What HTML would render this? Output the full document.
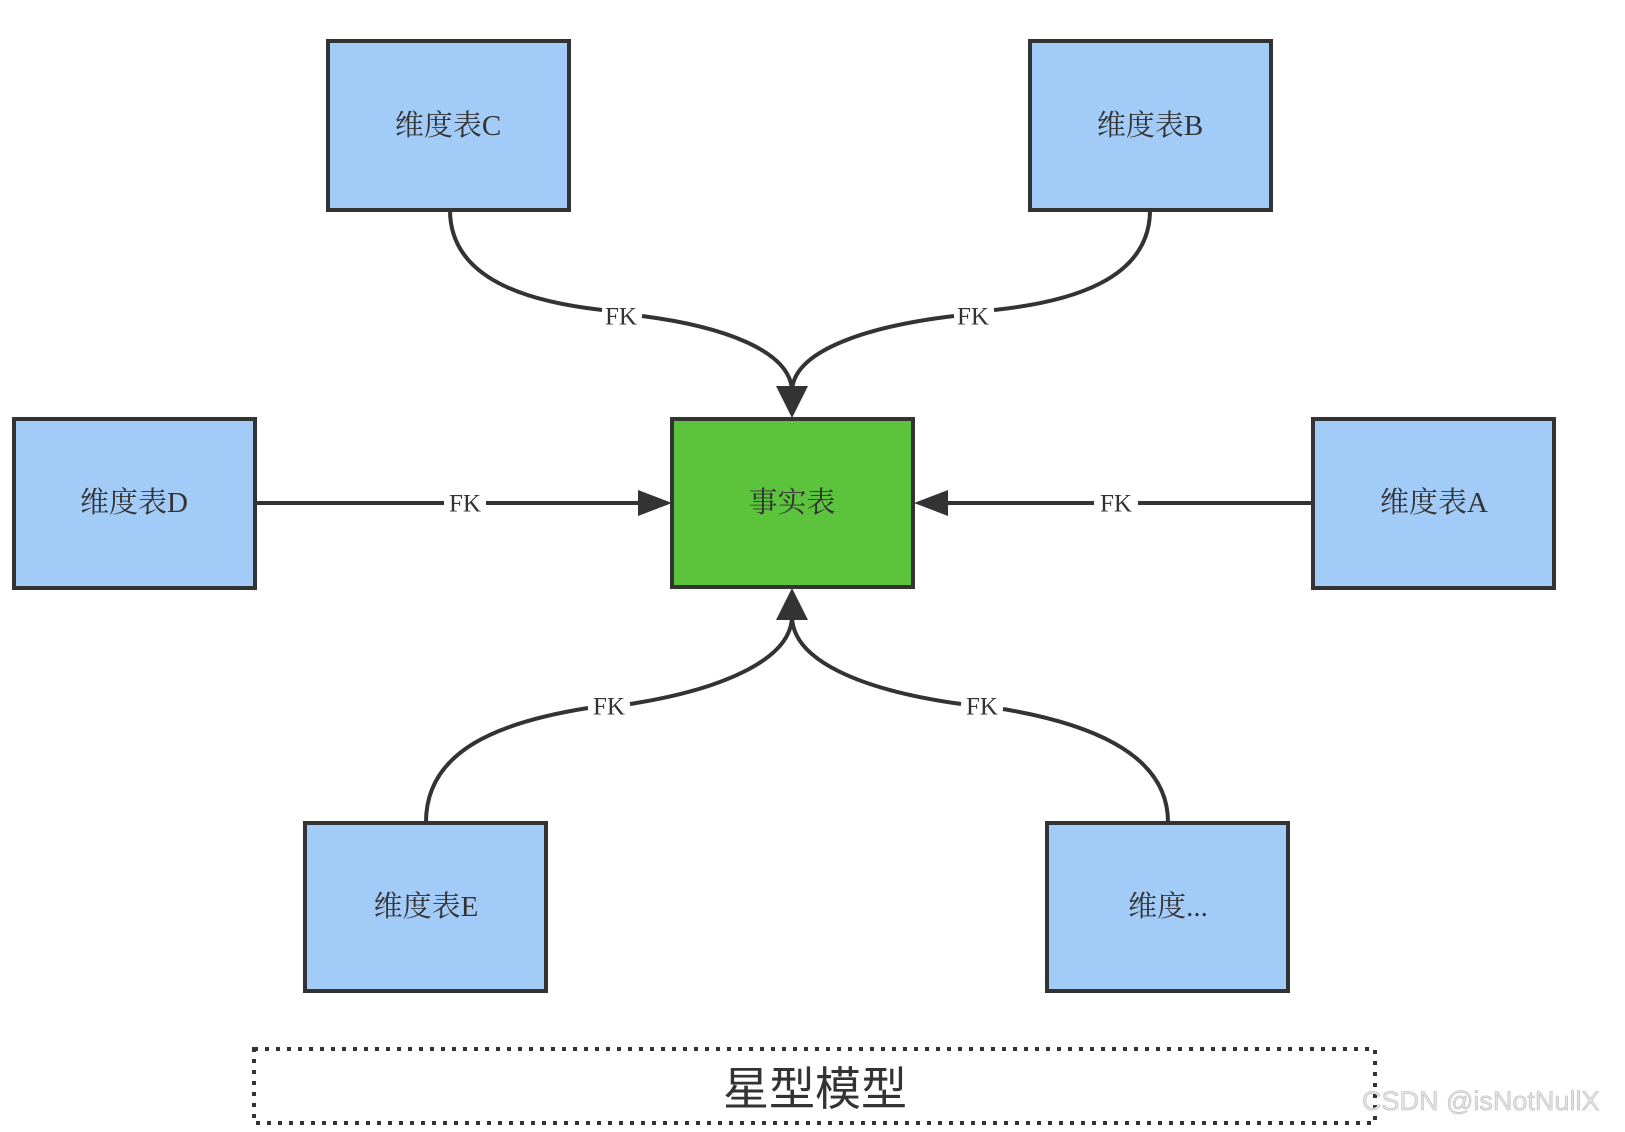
<!DOCTYPE html>
<html><head><meta charset="utf-8">
<style>
html,body{margin:0;padding:0;background:#fff;}
svg{display:block;}
.box{stroke:#333;stroke-width:4;}
.lbl{font-family:"Liberation Serif","Noto Serif CJK SC",serif;font-size:29px;fill:#333;text-anchor:middle;dominant-baseline:central;}
.fk{font-family:"Liberation Serif","Noto Serif CJK SC",serif;font-size:25px;fill:#333;text-anchor:middle;dominant-baseline:central;}
.ln{fill:none;stroke:#333;stroke-width:4;}
</style></head>
<body>
<svg width="1625" height="1132" viewBox="0 0 1625 1132" xmlns="http://www.w3.org/2000/svg">
<!-- connectors -->
<path class="ln" d="M450 210 C450 280 530 302 602 310"/>
<path class="ln" d="M642 316 C720 326 792 350 792 392"/>
<path class="ln" d="M1150 210 C1150 280 1070 302 994 310"/>
<path class="ln" d="M954 316 C870 326 792 350 792 392"/>
<path class="ln" d="M255 503 L444 503 M486 503 L645 503"/>
<path class="ln" d="M1313 503 L1138 503 M1094 503 L941 503"/>
<path class="ln" d="M426 822 C426 750 500 722 588 708"/>
<path class="ln" d="M630 704 C720 690 792 660 792 616"/>
<path class="ln" d="M1168 822 C1168 750 1080 722 1003 709"/>
<path class="ln" d="M961 704 C860 690 792 660 792 616"/>
<!-- arrowheads -->
<polygon points="776,386 808,386 792,418" fill="#333"/>
<polygon points="776,620 808,620 792,588" fill="#333"/>
<polygon points="638,490 638,516 672,503" fill="#333"/>
<polygon points="948,490 948,516 914,503" fill="#333"/>
<!-- FK labels -->
<text class="fk" x="621" y="317">FK</text>
<text class="fk" x="973" y="317">FK</text>
<text class="fk" x="465" y="504">FK</text>
<text class="fk" x="1116" y="504">FK</text>
<text class="fk" x="609" y="707">FK</text>
<text class="fk" x="982" y="707">FK</text>
<!-- boxes -->
<rect class="box" x="328" y="41" width="241" height="169" fill="#a3cbf7"/>
<text class="lbl" x="448" y="126">维度表C</text>
<rect class="box" x="1030" y="41" width="241" height="169" fill="#a3cbf7"/>
<text class="lbl" x="1150" y="126">维度表B</text>
<rect class="box" x="14" y="419" width="241" height="169" fill="#a3cbf7"/>
<text class="lbl" x="134" y="503">维度表D</text>
<rect class="box" x="1313" y="419" width="241" height="169" fill="#a3cbf7"/>
<text class="lbl" x="1434" y="503">维度表A</text>
<rect class="box" x="672" y="419" width="241" height="168" fill="#5cc43c"/>
<text class="lbl" x="792" y="503">事实表</text>
<rect class="box" x="305" y="823" width="241" height="168" fill="#a3cbf7"/>
<text class="lbl" x="426" y="907">维度表E</text>
<rect class="box" x="1047" y="823" width="241" height="168" fill="#a3cbf7"/>
<text class="lbl" x="1168" y="907">维度...</text>
<!-- dotted title box -->
<rect x="254" y="1049" width="1121" height="74" fill="none" stroke="#333" stroke-width="4" stroke-dasharray="4,7"/>
<text x="815" y="1089" style="font-family:'Liberation Sans','Noto Sans CJK SC',sans-serif;font-size:46px;fill:#333;text-anchor:middle;dominant-baseline:central;">星型模型</text>
<!-- watermark -->
<text x="1362" y="1110" style="font-family:'Liberation Sans',sans-serif;font-size:27px;fill:#e4e4e4;stroke:#bbb;stroke-width:0.6;">CSDN @isNotNullX</text>
</svg>
</body></html>
